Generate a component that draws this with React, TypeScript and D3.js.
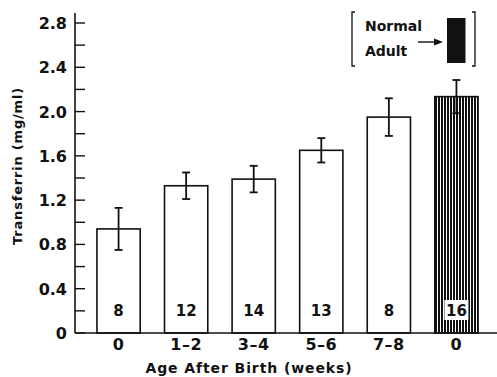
import React from "react";
import * as d3 from "d3";

const categories = ["0", "1–2", "3–4", "5–6", "7–8", "0 "];
const means = [0.94, 1.33, 1.39, 1.65, 1.95, 2.135];
const errors = [0.19, 0.12, 0.12, 0.11, 0.17, 0.15];
const counts = [8, 12, 14, 13, 8, 16];
const yTicks = [0, 0.4, 0.8, 1.2, 1.6, 2.0, 2.4, 2.8];
const yMinorTicks = [0.2, 0.6, 1.0, 1.4, 1.8, 2.2, 2.6];

const W = 497;
const H = 377;
const FONT = "'DejaVu Sans', sans-serif";

const App = () => {
  const x = d3
    .scaleBand<string>()
    .domain(categories)
    .range([76, 499])
    .paddingInner(0.36)
    .paddingOuter(0.31);

  const y = d3.scaleLinear().domain([0, 2.8]).range([333, 23]);
  const bw = x.bandwidth();

  return (
    <svg
      width={W}
      height={H}
      style={{ position: "absolute", left: 0, top: 0, background: "#fff" }}
      fontFamily={FONT}
      fontWeight="bold"
    >
      <defs>
        <pattern id="vhatch" width="3" height="4" patternUnits="userSpaceOnUse">
          <rect width="3" height="4" fill="#fff" />
          <rect x="0" width="2" height="4" fill="#111" />
        </pattern>
      </defs>

      {/* bars */}
      {categories.map((c, i) => (
        <rect
          key={"b" + i}
          x={x(c)}
          y={y(means[i])}
          width={bw}
          height={y(0) - y(means[i])}
          fill={i === 5 ? "url(#vhatch)" : "#fff"}
          stroke="#111"
          strokeWidth={1.6}
        />
      ))}

      {/* error bars */}
      {categories.map((c, i) => {
        const cx = (x(c) as number) + bw / 2;
        const hi = y(means[i] + errors[i]);
        const lo = y(means[i] - errors[i]);
        return (
          <g key={"e" + i} stroke="#111" strokeWidth={1.8}>
            <line x1={cx} x2={cx} y1={hi} y2={lo} />
            <line x1={cx - 4} x2={cx + 4} y1={hi} y2={hi} />
            <line x1={cx - 4} x2={cx + 4} y1={lo} y2={lo} />
          </g>
        );
      })}

      {/* counts */}
      {categories.map((c, i) => {
        const cx = (x(c) as number) + bw / 2;
        return (
          <g key={"n" + i}>
            {i === 5 && <rect x={cx - 12} y={300} width={24} height={20} fill="#fff" />}
            <text x={cx} y={316} textAnchor="middle" fontSize={15} fill="#111">
              {counts[i]}
            </text>
          </g>
        );
      })}

      {/* y axis */}
      <line x1={75} x2={75} y1={13} y2={333} stroke="#111" strokeWidth={1.6} />
      {[...yTicks, ...yMinorTicks].map((t, i) => (
        <line key={"t" + i} x1={75} x2={85} y1={y(t)} y2={y(t)} stroke="#111" strokeWidth={1.4} />
      ))}
      {yTicks.map((t, i) => (
        <text key={"yl" + i} x={67} y={y(t) + 6} textAnchor="end" fontSize={16} fill="#111">
          {t === 0 ? "0" : d3.format(".1f")(t)}
        </text>
      ))}

      {/* x axis */}
      <line x1={75} x2={497} y1={333} y2={333} stroke="#111" strokeWidth={1.6} />
      {categories.map((c, i) => (
        <text
          key={"xl" + i}
          x={(x(c) as number) + bw / 2}
          y={350}
          textAnchor="middle"
          fontSize={16}
          letterSpacing={0.5}
          fill="#111"
        >
          {c.trim()}
        </text>
      ))}

      <text x={249} y={373} textAnchor="middle" fontSize={14} letterSpacing={0.9} fill="#111">
        Age After Birth (weeks)
      </text>
      <text
        transform="translate(22,166) rotate(-90)"
        textAnchor="middle"
        fontSize={13}
        letterSpacing={0.8}
        fill="#111"
      >
        Transferrin (mg/ml)
      </text>

      {/* legend */}
      <g stroke="#111" strokeWidth={1.3} fill="none">
        <path d="M355,12 H352 V66 H355" />
        <path d="M472,12 H475 V66 H472" />
      </g>
      <text x={365} y={31} fontSize={14} fill="#111">Normal</text>
      <text x={365} y={56} fontSize={14} fill="#111">Adult</text>
      <line x1={418} x2={436} y1={42} y2={42} stroke="#111" strokeWidth={1.4} />
      <path d="M443,42 L434,38.5 L434,45.5 Z" fill="#111" />
      <rect x={447} y={18} width={18.5} height={45} fill="#111" />
    </svg>
  );
};

export default App;
